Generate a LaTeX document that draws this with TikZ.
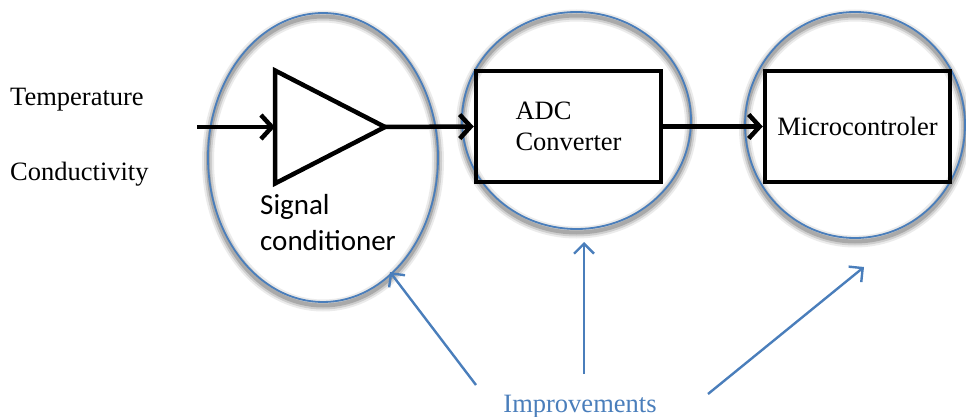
\documentclass[tikz,border=0pt]{standalone}
\usepackage{fontspec}
\setmainfont{Liberation Serif}
\newfontfamily\calibrifont{Carlito}
\usetikzlibrary{shapes.geometric,arrows.meta}
\definecolor{ringblue}{HTML}{4A7EBB}

\begin{document}
\begin{tikzpicture}[
  x=1pt, y=-1pt,
  >={Straight Barb[length=11pt,width=24pt]},
  block/.style={rectangle, draw, line width=4.5pt, minimum width=185pt, minimum height=111pt, inner sep=0pt},
  amp/.style={isosceles triangle, isosceles triangle stretches, draw, line width=4.5pt, minimum width=113pt, minimum height=110pt, inner sep=0pt, outer sep=0pt},
  ring/.style={ellipse, draw=ringblue, line width=1.8pt, inner sep=0pt, outer sep=0pt,
    preaction={draw=black, draw opacity=0.08, line width=12pt, transform canvas={yshift=-3.5pt}},
    preaction={draw=black, draw opacity=0.12, line width=8pt, transform canvas={yshift=-3.5pt}},
    preaction={draw=black, draw opacity=0.18, line width=4pt, transform canvas={yshift=-3.5pt}}},
  flow/.style={->, line width=4.5pt},
  hint/.style={-{Straight Barb[length=10pt,width=20pt]}, draw=ringblue, line width=2.4pt},
  font=\fontsize{26.5}{31}\selectfont
]
\useasboundingbox (0,0) rectangle (966,417);

% rings
\node[ring, minimum width=230pt, minimum height=289pt] (ringamp) at (323,157.5) {};
\node[ring, minimum width=229pt, minimum height=217pt] (ringadc) at (576.5,120.5) {};
\node[ring, minimum width=220pt, minimum height=226pt] (ringmcu) at (855,125) {};

\node[anchor=base west, inner sep=0pt] (temp) at (10,106) {Temperature};
\node[anchor=base west, inner sep=0pt] (cond) at (10,180) {Conductivity};
\coordinate (inlet) at (197,127);

\node[amp, anchor=lower side] (amp) at (275,127) {};
\node[font=\calibrifont\fontsize{29}{36}\selectfont, align=left, anchor=north west, inner sep=0pt] (amplabel) at (260,194) {Signal\\conditioner};
\node[block, align=left] (adc) at (568.5,126.5) {ADC\\Converter};
\node[block] (mcu) at (857.5,126.5) {Microcontroler};

\draw[flow] (inlet) -- (amp.lower side);
\draw[flow] (amp.apex) -- (adc.west);
\draw[flow] (adc.east) -- (mcu.west);

\node[anchor=base, text=ringblue] (impr) at (580,412) {Improvements};
\coordinate (from1) at (476,385);
\coordinate (from2) at (584,374);
\coordinate (from3) at (708,394);
\coordinate (to1) at (390,272);
\coordinate (to2) at (584,242);
\coordinate (to3) at (864,267);
\draw[hint] (from1) -- (to1);
\draw[hint] (from2) -- (to2);
\draw[hint] (from3) -- (to3);
\end{tikzpicture}
\end{document}
